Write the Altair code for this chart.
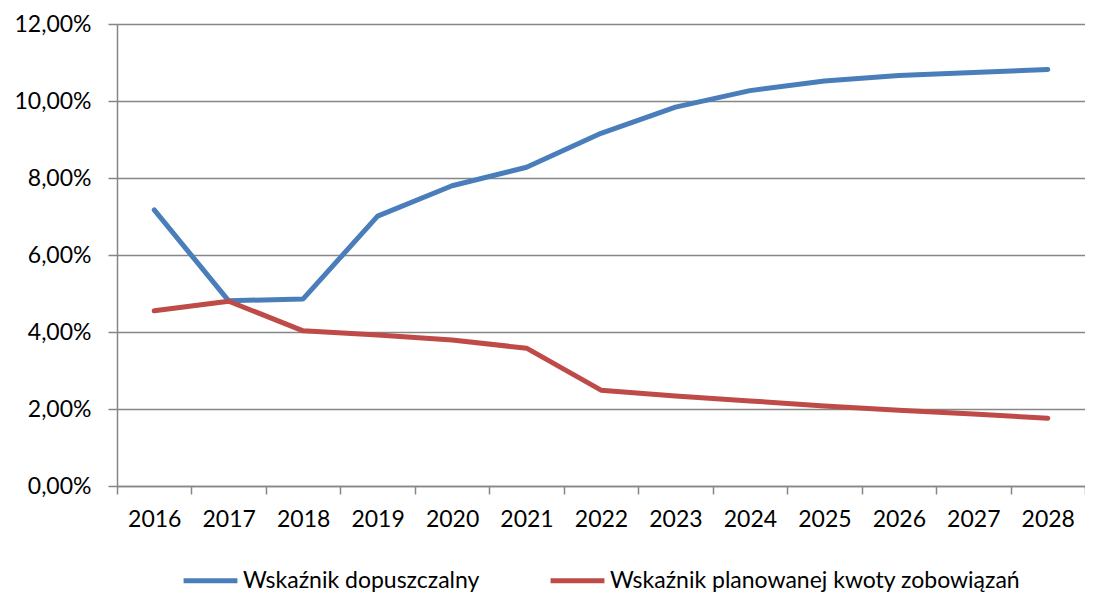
import altair as alt
import pandas as pd

years = ["2016", "2017", "2018", "2019", "2020", "2021", "2022",
         "2023", "2024", "2025", "2026", "2027", "2028"]
dopuszczalny = [0.0717, 0.0481, 0.0486, 0.0701, 0.0780, 0.0828, 0.0916,
                0.0984, 0.1027, 0.1052, 0.1066, 0.1074, 0.1082]
planowanej = [0.0455, 0.0480, 0.0403, 0.0392, 0.0379, 0.0358, 0.0249,
              0.0234, 0.0221, 0.0208, 0.0197, 0.0187, 0.0176]
series_names = ["Wskaźnik dopuszczalny", "Wskaźnik planowanej kwoty zobowiązań"]
colors = ["#4A7EBB", "#BE4B48"]

rows = []
for y, a, b in zip(years, dopuszczalny, planowanej):
    rows.append({"rok": y, "seria": series_names[0], "wartosc": a})
    rows.append({"rok": y, "seria": series_names[1], "wartosc": b})
df = pd.DataFrame(rows)

FONT = "Lato"
FS = 23

chart = alt.Chart(df).mark_line(strokeWidth=5, strokeCap="round", strokeJoin="round").encode(
    x=alt.X("rok:O", sort=years, bandPosition=0.5,
            scale=alt.Scale(type="band", paddingInner=0, paddingOuter=0),
            axis=alt.Axis(title=None, labelAngle=0, tickBand="extent", grid=False,
                          domainColor="#868686", domainWidth=1.5,
                          tickColor="#868686", tickWidth=1.5, tickSize=8,
                          labelPadding=14, labelFontSize=FS, labelFont=FONT,
                          labelColor="#000000")),
    y=alt.Y("wartosc:Q",
            scale=alt.Scale(domain=[0, 0.12], nice=False),
            axis=alt.Axis(title=None, values=[0, 0.02, 0.04, 0.06, 0.08, 0.10, 0.12],
                          labelExpr="replace(format(datum.value, '.2%'), '.', ',')",
                          grid=True, gridColor="#868686", gridWidth=1.5,
                          domainColor="#868686", domainWidth=1.5,
                          tickColor="#868686", tickWidth=1.5, tickSize=9,
                          labelPadding=17, labelFontSize=FS, labelFont=FONT,
                          labelColor="#000000")),
    color=alt.Color("seria:N", sort=series_names,
                    scale=alt.Scale(domain=series_names, range=colors),
                    legend=alt.Legend(title=None, orient="none", direction="horizontal",
                                      legendX=64, legendY=527,
                                      symbolType="stroke", symbolSize=2900,
                                      symbolStrokeWidth=5, labelFontSize=FS,
                                      labelFont=FONT, labelColor="#000000",
                                      labelLimit=600, columnPadding=60,
                                      labelOffset=3)),
).properties(
    width=968, height=462,
    autosize=alt.AutoSizeParams(type="none"),
    padding={"left": 109, "top": 16, "right": 0, "bottom": 106},
).configure_view(stroke=None).configure(background="#ffffff")

chart.save("out.html", embed_options={"renderer": "svg", "actions": False})
